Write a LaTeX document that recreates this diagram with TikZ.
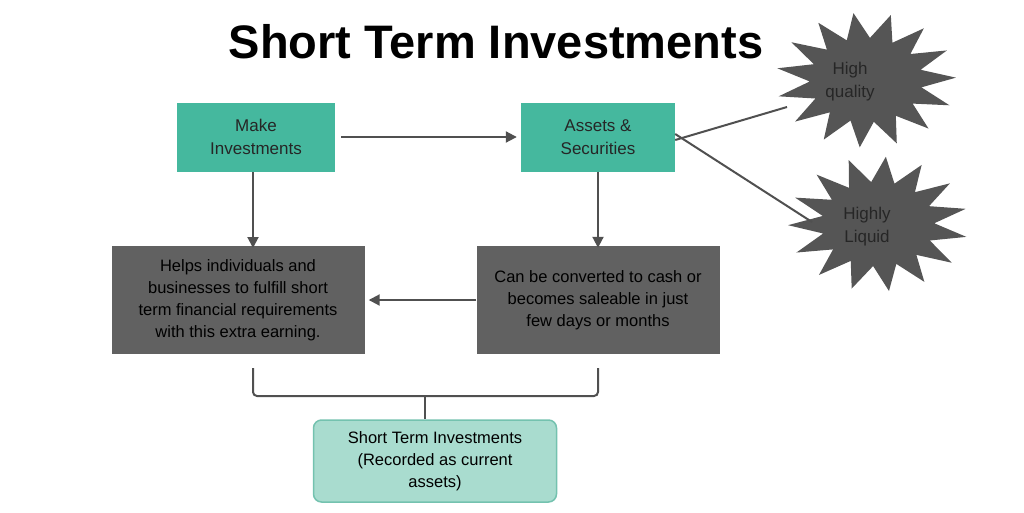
\documentclass[tikz,border=0pt]{standalone}
\usepackage{fontspec}
\setmainfont{Liberation Sans}
\usetikzlibrary{shapes.geometric,arrows.meta}
\definecolor{tealbox}{HTML}{45B89E}
\definecolor{greybox}{HTML}{616161}
\definecolor{lightteal}{HTML}{A9DCCF}
\definecolor{tealline}{HTML}{74C2AF}
\definecolor{starfill}{HTML}{555555}
\definecolor{linegrey}{HTML}{505050}
\tikzset{
  stepbox/.style={draw=none, fill=tealbox, minimum width=158pt, minimum height=69pt, align=center, font=\fontsize{17}{23}\selectfont, text=black!85},
  notebox/.style={draw=none, fill=greybox, minimum width=250pt, minimum height=108pt, align=center, font=\fontsize{16.5}{22}\selectfont, text=black},
  burst/.style={star, star points=15, star point ratio=1.6, fill=starfill, minimum size=180pt, yscale=0.75},
  bursttext/.style={font=\fontsize{17}{23}\selectfont, align=center, text=black!85},
  arr/.style={linegrey, line width=2pt, -{Triangle[length=11pt,width=11pt]}}
}
\begin{document}
\begin{tikzpicture}[x=1pt,y=-1pt]
\useasboundingbox (0,0) rectangle (1024,512);
% Title
\node[font=\fontsize{47}{52}\selectfont\bfseries] (title) at (496,42) {Short Term Investments};
% Boxes
\node[stepbox] (make) at (256,137) {Make\\Investments};
\node[stepbox, minimum width=154pt] (assets) at (598,137) {Assets \&\\Securities};
\node[notebox, minimum width=253pt] (helps) at (238,300) {Helps individuals and\\businesses to fulfill short\\term financial requirements\\with this extra earning.};
\node[notebox, minimum width=243pt] (conv) at (598,300) {Can be converted to cash or\\becomes saleable in just\\few days or months};
\node[draw=tealline, line width=1.5pt, fill=lightteal, rounded corners=8pt, minimum width=243pt, minimum height=82pt, align=center, font=\fontsize{16.5}{22}\selectfont] (sti) at (435,461) {Short Term Investments\\(Recorded as current\\assets)};
% Stars
\node[burst, rotate=8] (quality) at (866,80) {};
\node[bursttext] (qtext) at (850,82) {High\\quality};
\node[burst, rotate=-5] (liquid) at (878,224) {};
\node[bursttext] (ltext) at (867,227) {Highly\\Liquid};
\coordinate (qend) at (787,107);
\coordinate (lend) at (812,222);
\coordinate (makebot) at (253,172);
\coordinate (helpstop) at (253,246);
\coordinate (bracemid) at (425,396);
% Connectors
\draw[arr] ([xshift=6pt]make.east) -- ([xshift=-4pt]assets.west);
\draw[arr] (makebot) -- ([yshift=-2pt]helpstop);
\draw[arr] (assets.south) -- ([yshift=-2pt]conv.north);
\draw[arr] (conv.west) -- ([xshift=4pt]helps.east);
\draw[linegrey, line width=2pt] ([yshift=-3pt]assets.east) -- (qend);
\draw[linegrey, line width=2pt] ([yshift=3pt]assets.east) -- (lend);
% Brace
\draw[linegrey, line width=2pt, rounded corners=4pt] (253,368) -- (253,396) -- (598,396) -- (598,368);
\draw[linegrey, line width=2pt] (bracemid) -- (bracemid |- sti.north);
\end{tikzpicture}
\end{document}
